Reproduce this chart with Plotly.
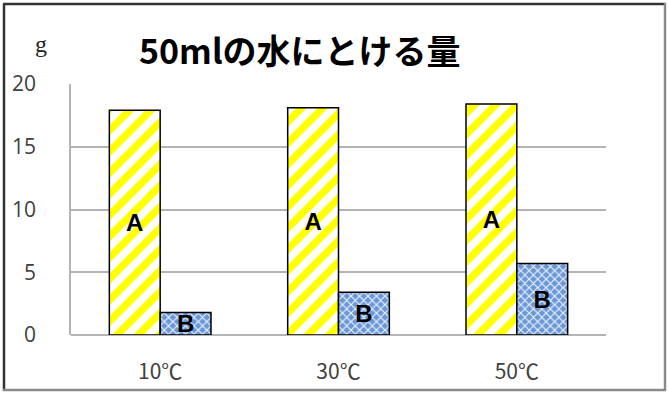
import plotly.graph_objects as go

categories = ["10℃", "30℃", "50℃"]
series_a = [17.9, 18.1, 18.4]
series_b = [1.8, 3.4, 5.7]
label_a = "A"
label_b = "B"
y_ticks = [0, 5, 10, 15, 20]
title_text = "50mlの水にとける量"
unit_text = "g"

W, H = 668, 394
L, R, T, B = 71, 62, 84, 59
pw, ph = W - L - R, H - T - B


def px(x):
    return (x - L) / pw


def py(y):
    return (H - B - y) / ph


label_font = dict(family="Liberation Sans, Arial", size=24, color="black", weight="bold")
ytick_font = dict(family="Open Sans, Noto Sans CJK JP", size=21, color="#404040")
xtick_font = dict(family="Noto Sans CJK JP", size=21, color="#404040")

fig = go.Figure()
fig.add_trace(go.Bar(
    x=categories, y=series_a, name=label_a,
    text=[label_a] * len(categories),
    textposition="inside", insidetextanchor="middle", textangle=0, constraintext="none",
    textfont=label_font,
    marker=dict(color="white", line=dict(color="black", width=1.5),
                pattern=dict(shape="/", fgcolor="#FFFF00", bgcolor="white", size=15,
                             solidity=0.5, fgopacity=1, fillmode="replace")),
))
fig.add_trace(go.Bar(
    x=categories, y=series_b, name=label_b,
    text=[label_b] * len(categories),
    textposition="inside", insidetextanchor="middle", textangle=0, constraintext="none",
    textfont=label_font,
    marker=dict(color="#6F9BDA", line=dict(color="black", width=1.5),
                pattern=dict(shape="x", fgcolor="#EEF4FC", bgcolor="#6A97D8", size=6,
                             solidity=0.35, fgopacity=1, fillmode="replace")),
))

shapes = [
    dict(type="line", xref="paper", yref="paper", x0=px(4), x1=px(4), y0=py(4), y1=py(391),
         line=dict(color="#333333", width=2.5)),
    dict(type="line", xref="paper", yref="paper", x0=px(3), x1=px(666), y0=py(4), y1=py(4),
         line=dict(color="#333333", width=2.5)),
    dict(type="line", xref="paper", yref="paper", x0=px(665), x1=px(665), y0=py(3), y1=py(391),
         line=dict(color="#8a8a8a", width=2.5)),
    dict(type="line", xref="paper", yref="paper", x0=px(3), x1=px(666), y0=py(390), y1=py(390),
         line=dict(color="#8a8a8a", width=2.5)),
]

fig.update_layout(
    width=W, height=H,
    margin=dict(l=L, r=R, t=T, b=B, pad=0, autoexpand=False),
    paper_bgcolor="white", plot_bgcolor="white",
    barmode="group", bargap=0.43, bargroupgap=0,
    showlegend=False,
    shapes=shapes,
    annotations=[
        dict(text=title_text, xref="paper", yref="paper", x=px(300), y=py(50),
             xanchor="center", yanchor="middle", showarrow=False,
             font=dict(family="Noto Sans CJK JP", size=34, color="black", weight="bold")),
        dict(text=unit_text, xref="paper", yref="paper", x=px(41), y=py(44),
             xanchor="center", yanchor="middle", showarrow=False,
             font=dict(family="Liberation Serif", size=24, color="#222222")),
    ],
    xaxis=dict(
        showgrid=False, showline=False, zeroline=False, ticks="", automargin=False,
        tickfont=xtick_font,
        ticklabelstandoff=22,
    ),
    yaxis=dict(
        range=[0, 20], tickvals=y_ticks, automargin=False,
        showgrid=True, gridcolor="#B4B4B4", gridwidth=1.5,
        zeroline=True, zerolinecolor="#B4B4B4", zerolinewidth=1.5,
        showline=True, linecolor="#B4B4B4", linewidth=1.5,
        ticks="", ticklabelstandoff=29,
        tickfont=ytick_font,
    ),
)

fig.write_html("out.html")
